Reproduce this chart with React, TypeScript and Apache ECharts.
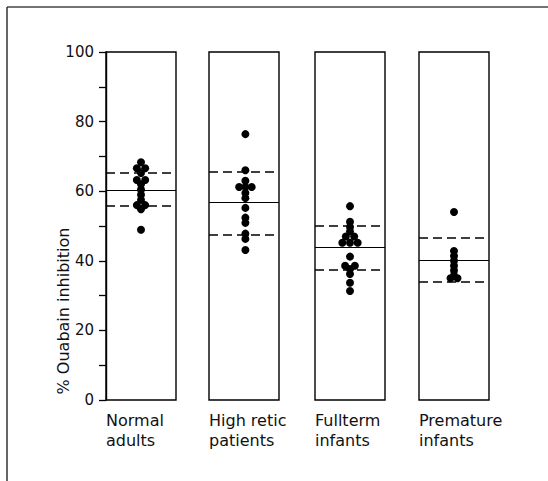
import React, { useEffect, useRef } from "react";
import * as echarts from "echarts";

// ---- data ----
const categories = ["Normal\nadults", "High retic\npatients", "Fullterm\ninfants", "Premature\ninfants"];

const normalValues = [68.3, 66.6, 66.6, 65.2, 63.2, 63.2, 62, 60.5, 59, 57.5, 56, 56, 54.8, 48.9];
const normalJitter = [0, -0.6, 0.6, 0, -0.6, 0.6, 0, 0, 0, 0, -0.6, 0.6, 0, 0];

const highReticValues = [76.4, 66, 63, 61.2, 61.2, 61.2, 59.5, 58, 55.2, 52.4, 50.9, 47.8, 46.3, 43.1];
const highReticJitter = [0.2, 0.2, 0.2, -0.7, 0.2, 1.1, 0.2, 0.2, 0.2, 0.2, 0.2, 0.2, 0.2, 0.2];

const fulltermValues = [55.7, 51.2, 49.7, 48.4, 47, 47, 45.2, 45.2, 45.2, 41.2, 38.6, 38.6, 37.6, 36.2, 33.7, 31.3];
const fulltermJitter = [0, 0, 0, 0, -0.6, 0.6, -1.1, 0, 1.1, 0, -0.7, 0.7, 0, 0, 0, 0];

const prematureValues = [54, 42.8, 41.4, 40, 38.6, 37.2, 35.8, 35, 35];
const prematureJitter = [0, 0, 0, 0, 0, 0, 0, -0.5, 0.5];

const means = [60.2, 56.9, 43.8, 40.3];
const upperBand = [65.3, 65.7, 50.0, 46.5];
const lowerBand = [55.8, 47.5, 37.4, 33.9];

const yTicks = [0, 20, 40, 60, 80, 100];
const yTitle = "% Ouabain inhibition";

const groupValues = [normalValues, highReticValues, fulltermValues, prematureValues];
const groupJitter = [normalJitter, highReticJitter, fulltermJitter, prematureJitter];

// ---- layout ----
const panelLefts = [106, 209, 315, 419];
const panelWidth = 70;
const panelTop = 52;
const panelHeight = 348;
const FONT = "DejaVu Sans";
const TXT = "#111";

export default function App() {
  const ref = useRef<HTMLDivElement>(null);
  useEffect(() => {
    if (!ref.current) return;
    const chart = echarts.init(ref.current, null, { renderer: "svg" });

    const grids = panelLefts.map((l) => ({
      left: l,
      top: panelTop,
      width: panelWidth,
      height: panelHeight,
      show: true,
      borderColor: "#000",
      borderWidth: 1.4,
      backgroundColor: "transparent",
    }));

    const xAxes = categories.map((c, i) => ({
      type: "value",
      gridIndex: i,
      min: -5,
      max: 5,
      interval: 10,
      splitLine: { show: false },
      axisLine: { show: false, onZero: false },
      axisTick: { show: false },
      axisLabel: {
        show: true,
        formatter: (v: number) => (v === -5 ? c : ""),
        align: "left",
        margin: 10,
        fontFamily: FONT,
        fontSize: 16,
        lineHeight: 20,
        color: TXT,
      },
    }));

    const yAxes = categories.map((_, i) => ({
      type: "value",
      gridIndex: i,
      min: 0,
      max: 100,
      interval: 10,
      show: i === 0,
      position: "left",
      splitLine: { show: false },
      axisLine: { show: true, onZero: false, lineStyle: { color: "#000", width: 1.4 } },
      axisTick: { show: true, inside: false, length: 7, lineStyle: { color: "#000", width: 1.3 } },
      axisLabel: {
        show: true,
        margin: 12,
        formatter: (v: number) => (yTicks.includes(v) ? String(v) : ""),
        fontFamily: FONT,
        fontSize: 15,
        color: TXT,
      },
    }));

    const series = groupValues.map((vals, i) => ({
      type: "scatter",
      xAxisIndex: i,
      yAxisIndex: i,
      symbol: "circle",
      symbolSize: 8,
      itemStyle: { color: "#000", opacity: 1 },
      data: vals.map((v, k) => [groupJitter[i][k], v]),
      z: 3,
      markLine: {
        silent: true,
        symbol: "none",
        label: { show: false },
        data: [
          { yAxis: means[i], lineStyle: { type: "solid", color: "#000", width: 1.2 } },
          { yAxis: upperBand[i], lineStyle: { type: [9, 5], color: "#000", width: 1.5 } },
          { yAxis: lowerBand[i], lineStyle: { type: [9, 5], color: "#000", width: 1.5 } },
        ],
      },
    }));

    chart.setOption({
      animation: false,
      backgroundColor: "#fff",
      grid: grids,
      xAxis: xAxes,
      yAxis: yAxes,
      series,
      graphic: [
        {
          type: "line",
          shape: { x1: 7, y1: 7, x2: 548, y2: 7 },
          style: { stroke: "#444", lineWidth: 1.5 },
        },
        {
          type: "line",
          shape: { x1: 7, y1: 7, x2: 7, y2: 481 },
          style: { stroke: "#333", lineWidth: 1.5 },
        },
        {
          type: "text",
          x: 63,
          y: 311,
          rotation: Math.PI / 2,
          style: {
            text: yTitle,
            fontFamily: FONT,
            fontSize: 16,
            fill: TXT,
            align: "center",
            verticalAlign: "middle",
          },
        },
      ],
    });
    return () => chart.dispose();
  }, []);

  return (
    <div
      ref={ref}
      style={{ position: "absolute", left: 0, top: 0, width: 548, height: 481, background: "#fff" }}
    />
  );
}
